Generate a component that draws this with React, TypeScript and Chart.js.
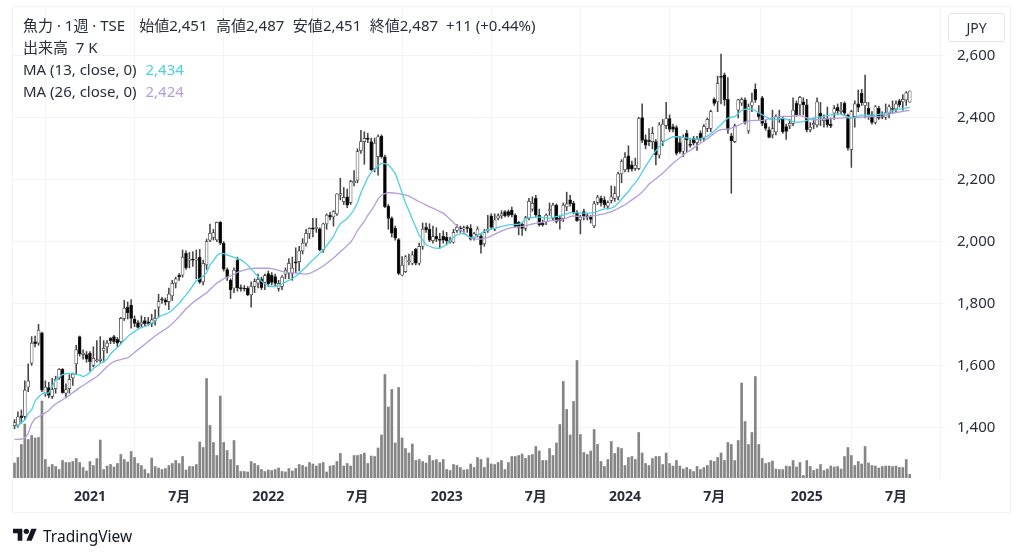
// App.tsx - weekly candles with volume and two moving averages
import { useEffect, useRef } from 'react';
import { Chart, registerables } from 'chart.js';

Chart.register(...registerables);

const opens = [
  1405, 1407, 1437, 1435, 1530, 1607, 1677, 1672, 1705, 1510,
  1528, 1500, 1525, 1560, 1587, 1510, 1525, 1560, 1605, 1693,
  1635, 1635, 1640, 1600, 1615, 1615, 1648, 1660, 1688, 1693,
  1684, 1677, 1752, 1788, 1795, 1750, 1738, 1733, 1745, 1741,
  1735, 1745, 1788, 1815, 1812, 1806, 1825, 1866, 1892, 1892,
  1962, 1940, 1941, 1940, 1950, 1870, 1925, 2005, 2014, 2006,
  2063, 1995, 1910, 1876, 1850, 1940, 1850, 1849, 1849, 1828,
  1855, 1866, 1879, 1868, 1897, 1892, 1887, 1849, 1855, 1895,
  1898, 1898, 1935, 1935, 1970, 1995, 2027, 2045, 2043, 2041,
  1973, 2057, 2086, 2080, 2090, 2150, 2129, 2145, 2126, 2190,
  2199, 2294, 2323, 2335, 2323, 2235, 2275, 2341, 2274, 2115,
  2075, 2043, 2007, 1892, 1903, 1935, 1930, 1975, 1930, 1985,
  2046, 2040, 2003, 2018, 2008, 2018, 2014, 2000, 1998, 2036,
  2043, 2041, 2044, 2043, 2014, 2022, 2018, 1993, 2035, 2083,
  2040, 2076, 2083, 2097, 2097, 2102, 2086, 2062, 2056, 2043,
  2076, 2105, 2140, 2086, 2060, 2065, 2100, 2076, 2118, 2075,
  2075, 2112, 2135, 2124, 2094, 2070, 2097, 2082, 2080, 2051,
  2127, 2140, 2135, 2115, 2133, 2140, 2145, 2219, 2232, 2277,
  2248, 2237, 2237, 2401, 2330, 2328, 2323, 2323, 2280, 2325,
  2375, 2398, 2372, 2369, 2320, 2292, 2350, 2315, 2334, 2320,
  2350, 2334, 2366, 2366, 2460, 2452, 2533, 2539, 2460, 2342,
  2323, 2425, 2448, 2458, 2358, 2440, 2492, 2417, 2465, 2382,
  2361, 2345, 2355, 2395, 2395, 2372, 2374, 2382, 2447, 2442,
  2452, 2442, 2361, 2377, 2377, 2415, 2391, 2398, 2380, 2415,
  2434, 2420, 2447, 2409, 2298, 2404, 2445, 2479, 2440, 2431,
  2410, 2385, 2431, 2410, 2402, 2415, 2430, 2429, 2455, 2452,
  2458, 2451,
];

const highs = [
  1425, 1450, 1456, 1550, 1605, 1693, 1695, 1733, 1708, 1550,
  1545, 1558, 1565, 1590, 1590, 1540, 1570, 1575, 1665, 1695,
  1650, 1645, 1645, 1660, 1680, 1693, 1680, 1680, 1690, 1697,
  1690, 1755, 1810, 1805, 1813, 1760, 1745, 1760, 1755, 1755,
  1765, 1780, 1830, 1820, 1818, 1850, 1875, 1885, 1897, 1973,
  1970, 1965, 1968, 1973, 1975, 1940, 2008, 2057, 2040, 2063,
  2065, 2000, 1915, 1880, 1915, 1950, 1860, 1858, 1855, 1870,
  1880, 1895, 1885, 1895, 1905, 1900, 1895, 1875, 1890, 1915,
  1945, 1950, 1980, 1985, 2010, 2040, 2045, 2075, 2075, 2045,
  2060, 2090, 2095, 2100, 2155, 2205, 2175, 2170, 2198, 2230,
  2300, 2360, 2355, 2350, 2335, 2335, 2345, 2345, 2280, 2120,
  2080, 2050, 2010, 1952, 1955, 1960, 1968, 1978, 1995, 2060,
  2060, 2058, 2050, 2045, 2027, 2035, 2030, 2015, 2040, 2055,
  2050, 2050, 2052, 2055, 2030, 2048, 2025, 2040, 2085, 2090,
  2090, 2090, 2100, 2100, 2102, 2112, 2090, 2065, 2060, 2082,
  2140, 2145, 2150, 2105, 2070, 2090, 2125, 2125, 2122, 2085,
  2125, 2160, 2150, 2130, 2100, 2085, 2105, 2090, 2085, 2130,
  2150, 2147, 2145, 2132, 2180, 2178, 2225, 2265, 2288, 2310,
  2260, 2270, 2402, 2445, 2345, 2365, 2370, 2330, 2385, 2395,
  2450, 2410, 2380, 2375, 2340, 2345, 2360, 2330, 2340, 2340,
  2358, 2378, 2400, 2425, 2465, 2535, 2606, 2545, 2530, 2350,
  2380, 2460, 2465, 2465, 2445, 2480, 2510, 2440, 2470, 2395,
  2370, 2425, 2410, 2425, 2405, 2380, 2395, 2465, 2455, 2470,
  2465, 2460, 2385, 2400, 2465, 2450, 2410, 2435, 2400, 2440,
  2445, 2450, 2452, 2412, 2425, 2455, 2490, 2492, 2538, 2450,
  2420, 2440, 2437, 2420, 2445, 2442, 2455, 2455, 2460, 2475,
  2485, 2487,
];

const lows = [
  1395, 1400, 1413, 1425, 1515, 1600, 1660, 1665, 1515, 1500,
  1495, 1493, 1510, 1555, 1510, 1495, 1510, 1535, 1570, 1630,
  1620, 1610, 1582, 1595, 1610, 1610, 1610, 1640, 1670, 1670,
  1660, 1670, 1745, 1750, 1720, 1725, 1720, 1725, 1725, 1728,
  1725, 1730, 1755, 1800, 1795, 1780, 1810, 1850, 1875, 1885,
  1910, 1915, 1920, 1880, 1865, 1860, 1910, 2000, 2005, 2000,
  1990, 1905, 1875, 1816, 1835, 1840, 1840, 1840, 1825, 1788,
  1835, 1850, 1845, 1845, 1855, 1860, 1855, 1840, 1845, 1880,
  1880, 1875, 1900, 1905, 1960, 1985, 2010, 2015, 2030, 1970,
  1965, 2040, 2070, 2050, 2085, 2135, 2120, 2110, 2120, 2180,
  2190, 2285, 2250, 2320, 2230, 2225, 2215, 2270, 2110, 2040,
  2015, 2005, 1893, 1889, 1900, 1925, 1925, 1925, 1925, 1975,
  2030, 2000, 1995, 2000, 1978, 1995, 1990, 1995, 1995, 2030,
  2030, 2025, 2030, 2005, 2005, 2015, 1963, 1985, 2030, 2040,
  2035, 2070, 2075, 2080, 2080, 2080, 2045, 2022, 2020, 2035,
  2070, 2098, 2080, 2050, 2050, 2055, 2085, 2070, 2060, 2040,
  2065, 2100, 2115, 2090, 2065, 2025, 2070, 2070, 2060, 2045,
  2120, 2115, 2110, 2105, 2125, 2130, 2135, 2190, 2225, 2225,
  2228, 2230, 2232, 2320, 2300, 2310, 2300, 2248, 2270, 2310,
  2365, 2355, 2355, 2280, 2285, 2275, 2290, 2305, 2312, 2295,
  2325, 2325, 2355, 2355, 2440, 2420, 2445, 2440, 2350, 2156,
  2320, 2400, 2440, 2380, 2350, 2420, 2450, 2395, 2375, 2360,
  2335, 2335, 2345, 2385, 2350, 2330, 2365, 2375, 2405, 2410,
  2410, 2355, 2355, 2365, 2370, 2375, 2370, 2370, 2368, 2395,
  2410, 2410, 2410, 2296, 2240, 2370, 2420, 2440, 2400, 2395,
  2380, 2380, 2395, 2397, 2395, 2400, 2415, 2420, 2435, 2425,
  2440, 2451,
];

const closes = [
  1415, 1434, 1431, 1520, 1550, 1672, 1670, 1714, 1520, 1530,
  1503, 1522, 1555, 1587, 1512, 1522, 1555, 1572, 1650, 1637,
  1640, 1620, 1612, 1623, 1618, 1620, 1655, 1672, 1680, 1677,
  1672, 1752, 1785, 1770, 1752, 1736, 1723, 1740, 1735, 1736,
  1747, 1752, 1806, 1811, 1804, 1830, 1865, 1880, 1886, 1950,
  1916, 1941, 1940, 1942, 1869, 1930, 2000, 2027, 2029, 2062,
  1995, 1911, 1884, 1844, 1908, 1850, 1848, 1847, 1828, 1855,
  1871, 1878, 1851, 1890, 1863, 1868, 1865, 1865, 1885, 1908,
  1930, 1914, 1930, 1970, 1995, 2027, 2043, 2040, 2045, 1973,
  2057, 2086, 2079, 2097, 2154, 2155, 2143, 2118, 2194, 2195,
  2291, 2323, 2334, 2330, 2232, 2318, 2339, 2275, 2113, 2075,
  2027, 2011, 1897, 1924, 1951, 1938, 1957, 1930, 1985, 2040,
  2038, 2005, 2016, 2008, 2004, 2005, 2002, 2003, 2030, 2046,
  2041, 2044, 2043, 2008, 2025, 2040, 1989, 2029, 2040, 2046,
  2070, 2083, 2090, 2083, 2085, 2086, 2049, 2046, 2043, 2078,
  2130, 2124, 2086, 2054, 2054, 2086, 2103, 2118, 2065, 2068,
  2118, 2122, 2122, 2094, 2068, 2079, 2083, 2080, 2072, 2122,
  2144, 2125, 2119, 2126, 2145, 2155, 2219, 2259, 2272, 2234,
  2234, 2247, 2398, 2327, 2312, 2323, 2350, 2280, 2377, 2380,
  2398, 2363, 2363, 2285, 2291, 2337, 2329, 2311, 2318, 2331,
  2331, 2372, 2395, 2420, 2447, 2511, 2531, 2458, 2361, 2326,
  2374, 2458, 2460, 2385, 2436, 2452, 2458, 2404, 2382, 2366,
  2337, 2365, 2404, 2398, 2355, 2356, 2382, 2425, 2410, 2466,
  2442, 2361, 2370, 2382, 2452, 2402, 2398, 2377, 2374, 2430,
  2423, 2425, 2415, 2302, 2420, 2445, 2434, 2449, 2450, 2410,
  2385, 2436, 2399, 2402, 2417, 2436, 2427, 2445, 2442, 2460,
  2481, 2487,
];

// thousands of shares
const volumes = [
  30, 41, 67, 108, 77, 85, 80, 81, 154, 37,
  22, 27, 23, 17, 35, 31, 31, 33, 39, 31,
  21, 14, 33, 25, 39, 76, 17, 24, 27, 22,
  29, 47, 37, 32, 53, 41, 29, 25, 17, 9,
  40, 23, 20, 17, 19, 25, 29, 35, 29, 43,
  16, 23, 23, 27, 72, 61, 199, 105, 71, 45,
  164, 71, 55, 37, 75, 25, 13, 13, 12, 33,
  29, 25, 17, 13, 16, 15, 17, 20, 13, 12,
  19, 14, 19, 27, 25, 22, 31, 28, 24, 29,
  31, 12, 24, 25, 33, 49, 24, 29, 24, 45,
  45, 47, 50, 29, 44, 43, 60, 86, 207, 142,
  177, 70, 181, 80, 59, 50, 68, 35, 37, 33,
  30, 45, 35, 37, 31, 37, 17, 15, 27, 25,
  21, 16, 17, 28, 21, 41, 37, 21, 40, 28,
  27, 31, 35, 17, 31, 43, 43, 45, 48, 39,
  45, 47, 63, 54, 35, 35, 59, 45, 70, 107,
  193, 137, 86, 153, 235, 87, 51, 47, 54, 97,
  67, 33, 23, 37, 73, 49, 61, 59, 25, 41,
  43, 37, 91, 50, 29, 25, 39, 43, 43, 27,
  50, 29, 24, 35, 24, 18, 21, 17, 13, 23,
  17, 21, 25, 35, 33, 41, 50, 35, 71, 67,
  35, 75, 190, 113, 67, 91, 203, 67, 39, 29,
  31, 34, 18, 17, 17, 24, 23, 35, 22, 31,
  5, 35, 23, 15, 18, 27, 15, 18, 24, 22,
  23, 18, 43, 61, 45, 25, 33, 28, 63, 30,
  25, 24, 20, 23, 24, 24, 23, 24, 21, 21,
  37, 7,
];

const ma13 = [
  1402, 1404, 1415, 1423, 1445, 1456, 1485, 1498, 1508, 1510,
  1511, 1532, 1552, 1562, 1570, 1573, 1574, 1574, 1570, 1569,
  1564, 1568, 1578, 1590, 1598, 1606, 1613, 1620, 1637, 1648,
  1658, 1669, 1682, 1693, 1702, 1709, 1717, 1722, 1726, 1730,
  1737, 1744, 1756, 1762, 1766, 1770, 1778, 1790, 1800, 1815,
  1827, 1842, 1858, 1874, 1880, 1888, 1900, 1925, 1938, 1955,
  1962, 1961, 1957, 1953, 1949, 1946, 1941, 1934, 1924, 1912,
  1899, 1887, 1872, 1864, 1858, 1855, 1855, 1858, 1863, 1869,
  1875, 1880, 1888, 1897, 1908, 1918, 1930, 1941, 1951, 1962,
  1973, 1987, 2001, 2016, 2040, 2058, 2066, 2075, 2088, 2103,
  2125, 2158, 2182, 2207, 2224, 2233, 2245, 2253, 2252, 2248,
  2236, 2221, 2190, 2158, 2125, 2100, 2072, 2047, 2020, 2006,
  1990, 1985, 1981, 1978, 1980, 1984, 1990, 2002, 2014, 2022,
  2026, 2026, 2020, 2012, 2014, 2020, 2026, 2034, 2038, 2041,
  2043, 2046, 2049, 2051, 2054, 2055, 2056, 2056, 2062, 2074,
  2077, 2078, 2079, 2079, 2078, 2077, 2076, 2078, 2081, 2084,
  2086, 2090, 2094, 2094, 2093, 2092, 2092, 2092, 2092, 2094,
  2098, 2103, 2106, 2107, 2108, 2114, 2124, 2137, 2150, 2162,
  2178, 2190, 2205, 2225, 2243, 2260, 2278, 2293, 2308, 2320,
  2328, 2334, 2339, 2339, 2338, 2337, 2335, 2333, 2331, 2331,
  2333, 2337, 2341, 2348, 2358, 2368, 2378, 2390, 2399, 2402,
  2404, 2414, 2424, 2428, 2429, 2428, 2423, 2416, 2410, 2404,
  2398, 2393, 2395, 2397, 2399, 2396, 2392, 2388, 2386, 2386,
  2388, 2392, 2396, 2399, 2401, 2403, 2405, 2407, 2409, 2411,
  2413, 2411, 2407, 2403, 2399, 2402, 2406, 2409, 2409, 2409,
  2409, 2409, 2411, 2413, 2415, 2419, 2423, 2426, 2428, 2430,
  2432, 2434,
];

const ma26 = [
  1361, 1361, 1362, 1365, 1380, 1412, 1428, 1434, 1440, 1447,
  1454, 1466, 1475, 1482, 1489, 1497, 1503, 1512, 1520, 1528,
  1535, 1542, 1550, 1557, 1564, 1574, 1585, 1596, 1606, 1612,
  1616, 1619, 1622, 1624, 1632, 1642, 1651, 1659, 1668, 1677,
  1686, 1695, 1703, 1710, 1717, 1725, 1735, 1746, 1757, 1770,
  1783, 1793, 1803, 1811, 1819, 1827, 1834, 1845, 1856, 1866,
  1873, 1880, 1885, 1889, 1894, 1901, 1905, 1908, 1911, 1913,
  1914, 1914, 1914, 1914, 1914, 1913, 1910, 1907, 1904, 1902,
  1900, 1899, 1898, 1897, 1896, 1895, 1897, 1902, 1908, 1914,
  1921, 1929, 1938, 1947, 1957, 1967, 1977, 1987, 1998, 2015,
  2036, 2051, 2066, 2085, 2100, 2118, 2138, 2150, 2155, 2158,
  2158, 2157, 2155, 2153, 2151, 2147, 2141, 2135, 2129, 2124,
  2118, 2112, 2108, 2103, 2097, 2092, 2083, 2072, 2062, 2050,
  2038, 2030, 2020, 2012, 2009, 2008, 2008, 2011, 2014, 2018,
  2024, 2029, 2034, 2039, 2043, 2045, 2047, 2048, 2049, 2051,
  2054, 2057, 2059, 2061, 2063, 2065, 2067, 2068, 2069, 2070,
  2073, 2077, 2081, 2083, 2082, 2080, 2079, 2080, 2082, 2084,
  2086, 2088, 2090, 2094, 2097, 2102, 2107, 2113, 2119, 2127,
  2135, 2143, 2151, 2160, 2172, 2186, 2194, 2203, 2212, 2221,
  2232, 2243, 2253, 2262, 2271, 2280, 2288, 2295, 2303, 2310,
  2318, 2325, 2333, 2341, 2350, 2358, 2362, 2363, 2364, 2367,
  2371, 2376, 2381, 2386, 2390, 2391, 2392, 2392, 2391, 2394,
  2397, 2400, 2403, 2404, 2405, 2405, 2405, 2406, 2407, 2408,
  2404, 2400, 2396, 2394, 2394, 2395, 2396, 2397, 2398, 2398,
  2399, 2399, 2400, 2400, 2400, 2401, 2401, 2402, 2403, 2404,
  2404, 2404, 2404, 2406, 2409, 2412, 2415, 2417, 2419, 2421,
  2423, 2424,
];

const priceTicks = [1400, 1600, 1800, 2000, 2200, 2400, 2600];
const timeTickBars = [22, 48, 74, 100, 126, 152, 178, 204, 231, 257];
const timeTickLabels = ['2021', '7月', '2022', '7月', '2023', '7月', '2024', '7月', '2025', '7月'];

const UI_FONT = '"Noto Sans", "Noto Sans CJK JP", sans-serif';

const legendQuote = [
  ['始値', '2,451'],
  ['高値', '2,487'],
  ['安値', '2,451'],
  ['終値', '2,487'],
];

const textStyle: React.CSSProperties = {
  position: 'absolute',
  left: 23,
  fontFamily: UI_FONT,
  fontSize: 15,
  lineHeight: '22px',
  color: '#2a2e39',
  whiteSpace: 'pre',
};

export default function App() {
  const canvasRef = useRef<HTMLCanvasElement | null>(null);

  useEffect(() => {
    if (!canvasRef.current) return;
    const bars = opens.map((_, i) => i);

    const chart = new Chart(canvasRef.current, {
      type: 'bar',
      data: {
        datasets: [
          {
            type: 'line',
            data: bars.map((i) => ({ x: i, y: ma13[i] })),
            borderColor: '#4dd0e1',
            borderWidth: 1.3,
            pointRadius: 0,
            tension: 0,
            yAxisID: 'y',
            order: 0,
          },
          {
            type: 'line',
            data: bars.map((i) => ({ x: i, y: ma26[i] })),
            borderColor: '#b39ddb',
            borderWidth: 1.3,
            pointRadius: 0,
            tension: 0,
            yAxisID: 'y',
            order: 0,
          },
          {
            // candle bodies
            data: bars.map((i) => ({ x: i, y: [opens[i], closes[i]] })),
            backgroundColor: (ctx: any) =>
              closes[ctx.dataIndex] >= opens[ctx.dataIndex] ? '#ffffff' : '#000000',
            borderColor: '#333333',
            borderWidth: 0.7,
            borderSkipped: false,
            barThickness: 3,
            minBarLength: 1,
            grouped: false,
            yAxisID: 'y',
            order: 1,
          },
          {
            // wicks
            data: bars.map((i) => ({ x: i, y: [lows[i], highs[i]] })),
            backgroundColor: '#444444',
            barThickness: 0.9,
            grouped: false,
            yAxisID: 'y',
            order: 2,
          },
          {
            data: bars.map((i) => ({ x: i, y: volumes[i] })),
            backgroundColor: '#858585',
            barThickness: 2,
            grouped: false,
            yAxisID: 'vol',
            order: 3,
          },
        ],
      } as any,
      options: {
        responsive: false,
        animation: false,
        layout: { padding: { left: 12, top: 6, right: 0, bottom: 0 } },
        plugins: { legend: { display: false }, tooltip: { enabled: false } },
        scales: {
          x: {
            type: 'linear',
            min: -0.73,
            max: 271.3,
            offset: false,
            afterBuildTicks: (scale: any) => {
              scale.ticks = timeTickBars.map((value) => ({ value }));
            },
            afterFit: (scale: any) => {
              scale.height = 80;
              scale.paddingLeft = 0;
              scale.paddingRight = 0;
            },
            grid: { color: '#f3f4f6', drawTicks: false },
            border: { display: false },
            ticks: {
              autoSkip: false,
              maxRotation: 0,
              padding: 11,
              color: '#2a2e39',
              font: (ctx: any) => ({
                family: UI_FONT,
                size: 14,
                weight: /^\d/.test(timeTickLabels[ctx.index] ?? '') ? 'bold' : 'normal',
              }),
              callback: (value: any) => timeTickLabels[timeTickBars.indexOf(value)],
            },
          },
          y: {
            position: 'right',
            min: 1236,
            max: 2761.6,
            afterBuildTicks: (scale: any) => {
              scale.ticks = priceTicks.map((value) => ({ value }));
            },
            afterFit: (scale: any) => {
              scale.width = 79;
              scale.paddingTop = 0;
              scale.paddingBottom = 0;
            },
            grid: { color: '#f3f4f6', drawTicks: false },
            border: { display: false },
            ticks: {
              padding: 12,
              color: '#2a2e39',
              font: { family: UI_FONT, size: 15 },
              callback: (value: any) => Number(value).toLocaleString('en-US'),
            },
          },
          vol: {
            display: false,
            min: 0,
            max: 944,
          },
        },
      } as any,
    });

    return () => chart.destroy();
  }, []);

  return (
    <div style={{ position: 'absolute', left: 0, top: 0, width: 1024, height: 558, background: '#fff', overflow: 'hidden' }}>
      <canvas ref={canvasRef} width={1024} height={558} style={{ position: 'absolute', left: 0, top: 0 }} />
      <div style={{ position: 'absolute', left: 12, top: 6, width: 999, height: 507, border: '1px solid #f0f3f5', boxSizing: 'border-box' }} />

      <div style={{ ...textStyle, top: 14 }}>
        魚力 · 1週 · TSE
        {legendQuote.map(([label, value], i) => (
          <span key={label} style={{ marginLeft: i === 0 ? 14 : 8.5 }}>{label}{value}</span>
        ))}
        <span style={{ marginLeft: 8 }}>+11 (+0.44%)</span>
      </div>
      <div style={{ ...textStyle, top: 36 }}>出来高  7 K</div>
      <div style={{ ...textStyle, top: 58 }}>
        MA (13, close, 0)<span style={{ color: '#4dd0e1', marginLeft: 9 }}>2,434</span>
      </div>
      <div style={{ ...textStyle, top: 80 }}>
        MA (26, close, 0)<span style={{ color: '#b39ddb', marginLeft: 9 }}>2,424</span>
      </div>

      <div
        style={{
          position: 'absolute', left: 948, top: 13, width: 57, height: 29, boxSizing: 'border-box',
          border: '1px solid #e0e3eb', borderRadius: 3, fontFamily: UI_FONT, fontSize: 14,
          lineHeight: '27px', textAlign: 'center', color: '#2a2e39',
        }}
      >
        JPY
      </div>

      <svg width="24" height="18.7" viewBox="0 0 36 28" style={{ position: 'absolute', left: 13, top: 526 }}>
        <path d="M14 22H7V11H0V4h14v18zM28 22h-8l7.5-18h8L28 22z" fill="#131722" />
        <circle cx="20" cy="8" r="4" fill="#131722" />
      </svg>
      <div style={{ position: 'absolute', left: 43, top: 524, fontFamily: UI_FONT, fontSize: 15.5, lineHeight: '24px', color: '#131722' }}>
        TradingView
      </div>
    </div>
  );
}
